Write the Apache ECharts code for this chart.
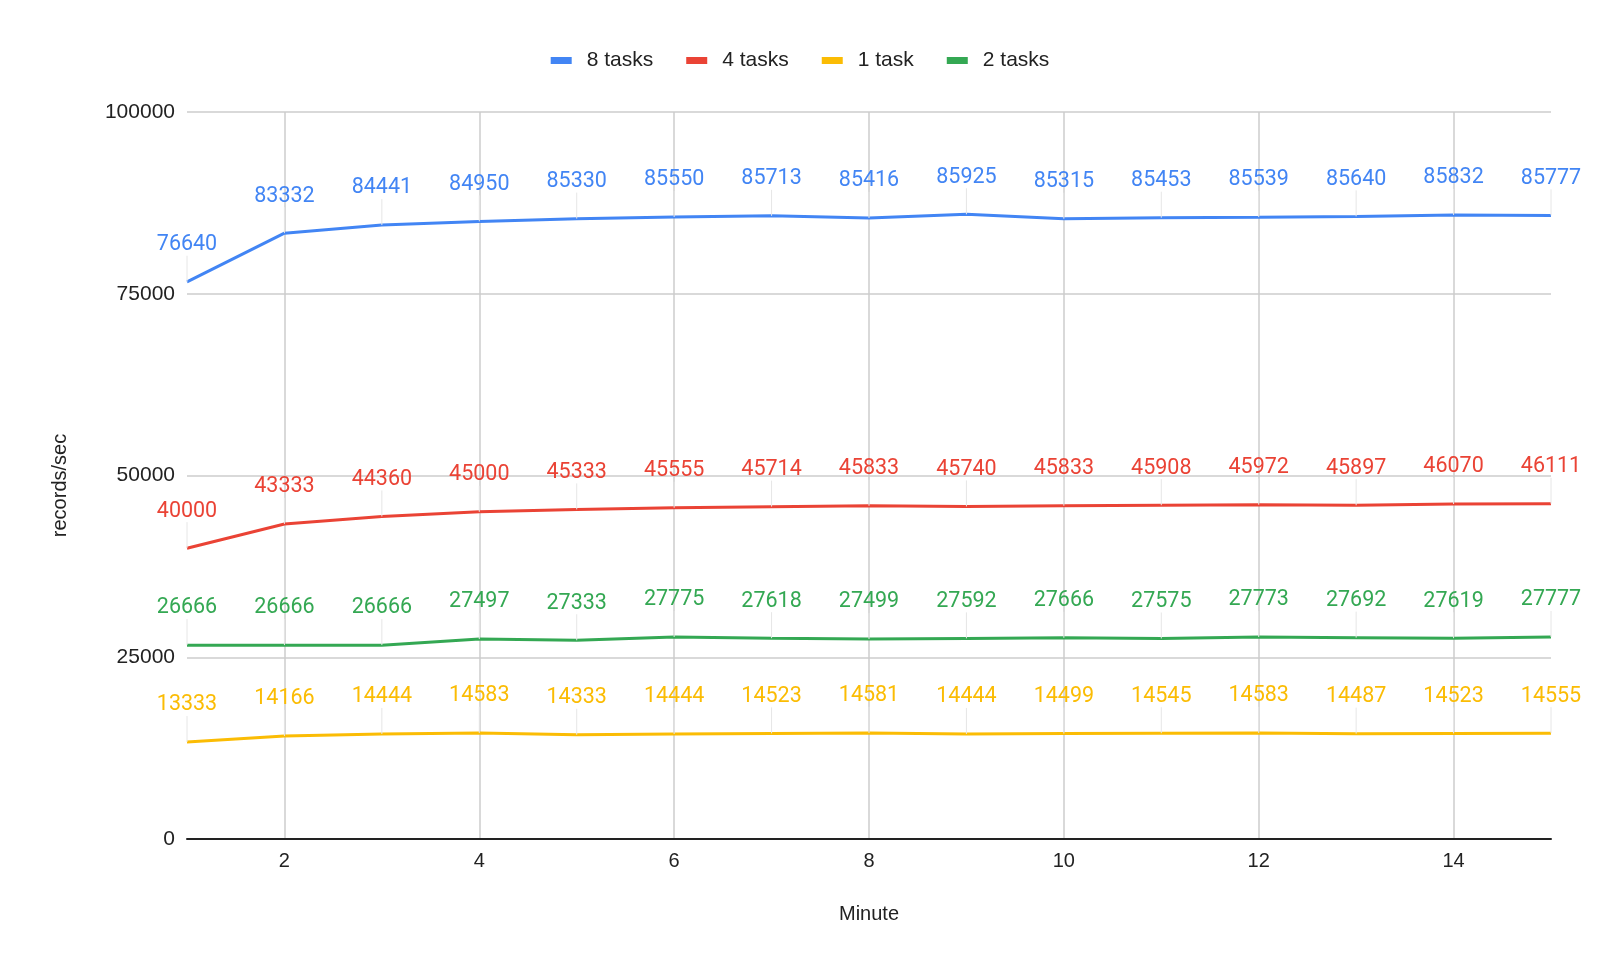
<!DOCTYPE html>
<html>
<head>
<meta charset="utf-8">
<script src="https://cdn.jsdelivr.net/npm/echarts@6/dist/echarts.min.js"></script>
<style>html,body{margin:0;padding:0;background:#fff;}#c{width:1600px;height:974px;}</style>
</head>
<body>
<div id="c"></div>
<script>
const minutes = [1,2,3,4,5,6,7,8,9,10,11,12,13,14,15];
const tasks8 = [76640,83332,84441,84950,85330,85550,85713,85416,85925,85315,85453,85539,85640,85832,85777];
const tasks4 = [40000,43333,44360,45000,45333,45555,45714,45833,45740,45833,45908,45972,45897,46070,46111];
const tasks1 = [13333,14166,14444,14583,14333,14444,14523,14581,14444,14499,14545,14583,14487,14523,14555];
const tasks2 = [26666,26666,26666,27497,27333,27775,27618,27499,27592,27666,27575,27773,27692,27619,27777];
const yTicks = [0,25000,50000,75000,100000];

const chart = echarts.init(document.getElementById('c'));
function mk(name, data, color) {
  return {
    name: name, type: 'line', data: data,
    symbol: 'circle', symbolSize: 0.1, showSymbol: true,
    lineStyle: {color: color, width: 3},
    itemStyle: {color: color},
    label: {show: true, position: 'top', distance: 4, color: color,
      fontFamily: 'Roboto', fontSize: 21.5},
    labelLayout: {dy: -22},
    labelLine: {show: true, lineStyle: {color: '#e6e6e6', width: 1}},
    emphasis: {disabled: true},
    animation: false
  };
}
chart.setOption({
  animation: false,
  legend: {
    top: 45, left: 'center',
    itemWidth: 21, itemHeight: 7, itemGap: 33,
    icon: 'rect',
    textStyle: {fontFamily: 'Liberation Sans, Arial', fontSize: 21, color: '#222', padding: [0,0,0,10]},
    data: ['8 tasks','4 tasks','1 task','2 tasks']
  },
  grid: {left: 187, right: 49, top: 112, bottom: 135, containLabel: false},
  xAxis: {
    type: 'category', data: minutes, boundaryGap: false,
    name: 'Minute', nameLocation: 'middle', nameGap: 65,
    nameTextStyle: {fontFamily: 'Liberation Sans, Arial', fontSize: 20, color: '#222'},
    axisLine: {lineStyle: {color: '#222', width: 2}},
    axisTick: {show: false},
    axisLabel: {fontFamily: 'Liberation Sans, Arial', fontSize: 20, color: '#222', margin: 12,
      interval: function (i, v) { return Number(v) % 2 === 0; }},
    splitLine: {show: true, lineStyle: {color: '#cccccc', width: 1.5},
      interval: function (i, v) { return Number(v) % 2 === 0; }}
  },
  yAxis: {
    type: 'value', min: yTicks[0], max: yTicks[yTicks.length-1], interval: 25000,
    name: 'records/sec', nameLocation: 'middle', nameGap: 117,
    nameTextStyle: {fontFamily: 'Liberation Sans, Arial', fontSize: 20, color: '#222', padding: [0,20,0,0]},
    axisLine: {show: false}, axisTick: {show: false},
    axisLabel: {fontFamily: 'Liberation Sans, Arial', fontSize: 21, color: '#222', margin: 12,
      formatter: function (v) { return String(v); }},
    splitLine: {lineStyle: {color: '#cccccc', width: 1.5}}
  },
  series: [
    mk('8 tasks', tasks8, '#4285F4'),
    mk('4 tasks', tasks4, '#EA4335'),
    mk('1 task', tasks1, '#FBBC04'),
    mk('2 tasks', tasks2, '#34A853')
  ]
});
</script>
</body>
</html>
